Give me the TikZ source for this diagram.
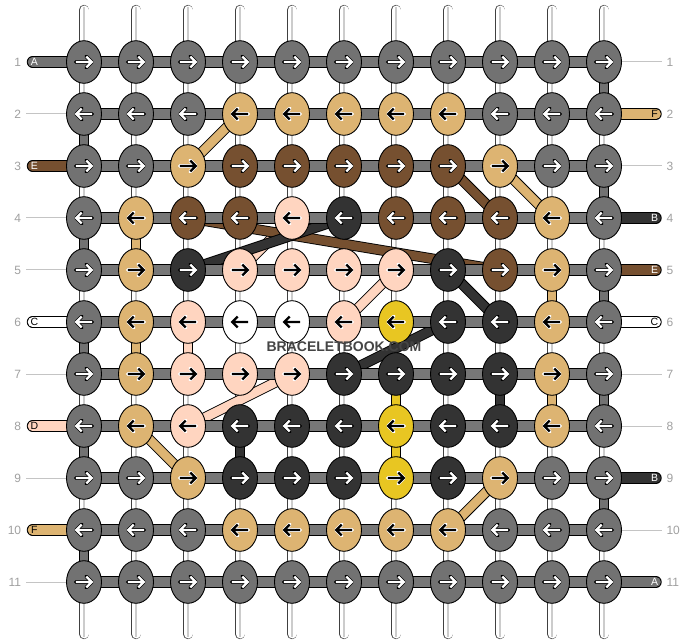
\documentclass[tikz,border=0pt]{standalone}
\usepackage{fontspec}
\setmainfont{Liberation Sans}
\usetikzlibrary{shapes.geometric}
\definecolor{kG}{HTML}{727272}
\definecolor{kT}{HTML}{DDB472}
\definecolor{kB}{HTML}{765030}
\definecolor{kK}{HTML}{333333}
\definecolor{kP}{HTML}{FFD5C0}
\definecolor{kW}{HTML}{FFFFFF}
\definecolor{kY}{HTML}{E8C622}
\definecolor{barG}{HTML}{777777}
\definecolor{warpline}{HTML}{CCCCCC}
\definecolor{lblgray}{HTML}{A0A0A0}
\definecolor{guide}{HTML}{C4C4C4}
\definecolor{wmark}{HTML}{454545}
\colorlet{aG}{white}\colorlet{oG}{black}
\colorlet{aB}{white}\colorlet{oB}{black}
\colorlet{aK}{white}\colorlet{oK}{black}
\colorlet{aT}{black}\colorlet{oT}{white}
\colorlet{aP}{black}\colorlet{oP}{white}
\colorlet{aW}{black}\colorlet{oW}{white}
\colorlet{aY}{black}\colorlet{oY}{white}
\tikzset{
  band/.style={line width=8.8pt, draw=#1, preaction={draw=black, line width=10.6pt}},
  warp/.style={line width=9pt, draw=white, line cap=round, preaction={draw=black!75, line width=10.4pt, line cap=round}},
  warpmid/.style={line width=1.2pt, draw=warpline},
  hbar/.style={line width=9.6pt, draw=barG, preaction={draw=black, line width=11.4pt}},
  stubband/.style={line width=9.6pt, draw=#1, line cap=round, preaction={draw=black, line width=11.4pt, line cap=round}},
  guideline/.style={line width=1pt, draw=guide},
  knot/.style={ellipse, draw=black, line width=0.9pt, minimum width=35pt, minimum height=42.6pt, inner sep=0pt},
  rownum/.style={text=lblgray, font=\fontsize{12}{14}\selectfont, inner sep=0pt},
  stubtxt/.style={font=\fontsize{10.5}{12}\selectfont, inner sep=0pt},
  arrout/.style={line width=3.8pt, draw=#1, line cap=round, line join=round},
  arrin/.style={line width=2.3pt, draw=#1},
  wm/.style={font=\fontsize{14}{16}\selectfont\bfseries, inner sep=0pt},
}
\begin{document}
\begin{tikzpicture}[x=1pt,y=-1pt]
\fill[white] (0,0) rectangle (688,644);
\useasboundingbox (0,0) rectangle (688,644);
% coordinates
\foreach \r in {1,...,11}{
  \foreach \c in {1,...,11}{
    \coordinate (k-\r-\c) at ({84+52*(\c-1)},{62+52*(\r-1)});
  }
  \coordinate (ls-\r) at (32.5,{62+52*(\r-1)});
  \coordinate (rs-\r) at (656,{62+52*(\r-1)});
  \coordinate (lg-\r) at (26,{62+52*(\r-1)});
  \coordinate (rg-\r) at (662,{62+52*(\r-1)});
}
\foreach \c in {1,...,11}{
  \coordinate (top-\c) at ({84+52*(\c-1)},10);
  \coordinate (bot-\c) at ({84+52*(\c-1)},634);
  \coordinate (topm-\c) at ({84+52*(\c-1)},7.5);
  \coordinate (botm-\c) at ({84+52*(\c-1)},636.5);
}
% guide lines for rows without strands
\foreach \r in {2,4,5,7,9,11}{\draw[guideline] (lg-\r) -- (k-\r-1);}
\foreach \r in {1,3,7,8,10}{\draw[guideline] (k-\r-11) -- (rg-\r);}
% warp strands
\foreach \c in {1,...,11}{
  \draw[warp] (top-\c) -- (bot-\c);
  \draw[warpmid] (topm-\c) -- (botm-\c);
}
% carried vertical segments
\foreach \a/\b/\c/\col in {2/3/1/kG,4/5/1/kG,6/7/1/kG,8/9/1/kG,10/11/1/kG,
  1/2/11/kG,3/4/11/kG,5/6/11/kG,7/8/11/kG,9/10/11/kG,
  4/5/2/kT,6/7/2/kT,6/7/3/kP,8/9/4/kK,7/8/7/kY,8/9/7/kY,7/8/9/kK,5/6/10/kT,7/8/10/kT}{
  \draw[band=\col] (k-\a-\c) -- (k-\b-\c);
}
% carried diagonal strands
\draw[band=kP] (k-4-5) -- (k-5-4);
\draw[band=kP] (k-5-7) -- (k-6-6);
\draw[band=kP] (k-7-5) -- (k-8-3);
\draw[band=kB] (k-3-8) -- (k-4-9);
\draw[band=kB] (k-4-3) -- (k-5-9);
\draw[band=kK] (k-5-3) -- (k-4-6);
\draw[band=kK] (k-7-6) -- (k-6-8);
\draw[band=kK] (k-5-8) -- (k-6-9);
\draw[band=kT] (k-2-4) -- (k-3-3);
\draw[band=kT] (k-3-9) -- (k-4-10);
\draw[band=kT] (k-8-2) -- (k-9-3);
\draw[band=kT] (k-9-9) -- (k-10-8);
% side strands
\foreach \r/\col/\L in {1/G/A,3/B/E,6/W/C,8/P/D,10/T/F}{
  \draw[stubband=k\col] (ls-\r) -- (k-\r-1);
  \node[stubtxt, text=a\col] (lt-\r) at ([xshift=1.8pt]ls-\r) {\L};
}
\foreach \r/\col/\L in {2/T/F,4/K/B,5/B/E,6/W/C,9/K/B,11/G/A}{
  \draw[stubband=k\col] (k-\r-11) -- (rs-\r);
  \node[stubtxt, text=a\col] (rt-\r) at ([xshift=-1.5pt]rs-\r) {\L};
}
% horizontal bars
\foreach \r in {1,...,11}{\draw[hbar] (k-\r-1) -- (k-\r-11);}
% knots
\foreach \row [count=\r] in {
  {G,G,G,G,G,G,G,G,G,G,G},
  {G,G,G,T,T,T,T,T,G,G,G},
  {G,G,T,B,B,B,B,B,T,G,G},
  {G,T,B,B,P,K,B,B,B,T,G},
  {G,T,K,P,P,P,P,K,B,T,G},
  {G,T,P,W,W,P,Y,K,K,T,G},
  {G,T,P,P,P,K,K,K,K,T,G},
  {G,T,P,K,K,K,Y,K,K,T,G},
  {G,G,T,K,K,K,Y,K,T,G,G},
  {G,G,G,T,T,T,T,T,G,G,G},
  {G,G,G,G,G,G,G,G,G,G,G}}{
  \pgfmathtruncatemacro\dir{1-2*mod(\r+1,2)}
  \foreach \col [count=\c] in \row {
    \node[knot, fill=k\col] (n-\r-\c) at (k-\r-\c) {};
    \draw[shift={(k-\r-\c)}, xscale=\dir, arrout=o\col] (-8.2,0) -- (7.8,0) (2.3,-5.5) -- (7.8,0) -- (2.3,5.5);
    \draw[shift={(k-\r-\c)}, xscale=\dir, arrin=a\col] (-8.2,0) -- (7.8,0) (2.3,-5.5) -- (7.8,0) -- (2.3,5.5);
  }
}
% row numbers
\foreach \r in {1,...,11}{
  \node[rownum, anchor=east] (ln-\r) at (21.3,{62+52*(\r-1)}) {\r};
  \node[rownum, anchor=west] (rn-\r) at (666.3,{62+52*(\r-1)}) {\r};
}
% watermark
\node[wm, text=wmark] (wmk) at (344,347) {BRACELETBOOK.COM};
\end{tikzpicture}
\end{document}
